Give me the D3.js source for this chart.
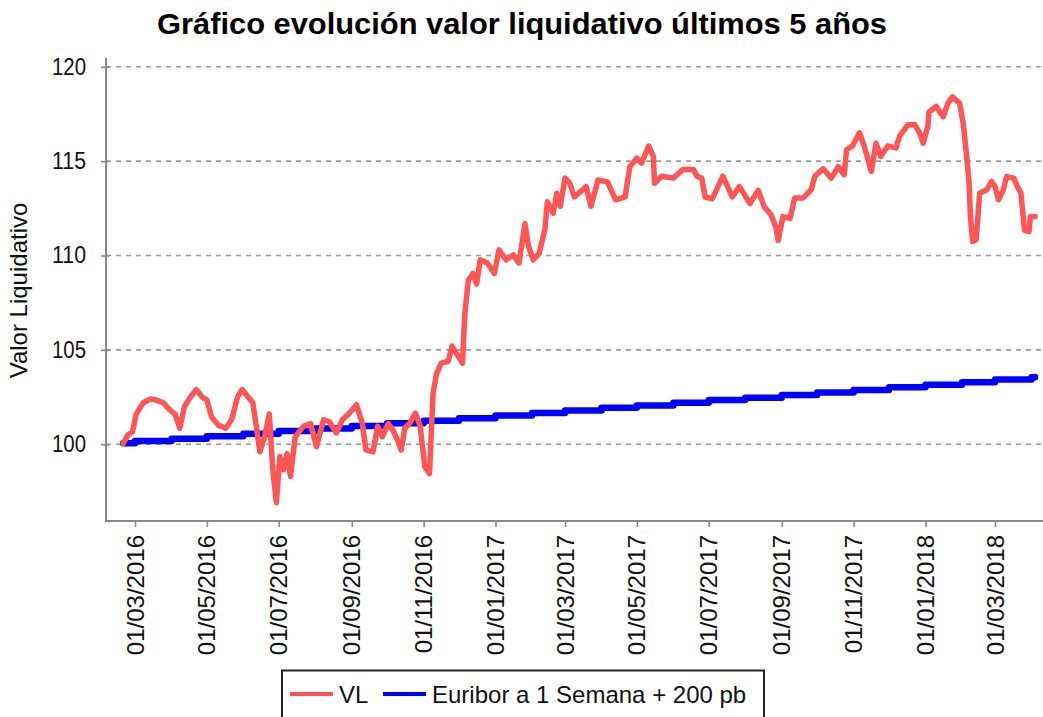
<!DOCTYPE html>
<html><head><meta charset="utf-8">
<script src="https://cdn.jsdelivr.net/npm/d3@7"></script>
<style>
body{margin:0;background:#fff;}
svg{display:block;font-family:"Liberation Sans",Arial,sans-serif;}
</style>
</head><body>
<svg id="c" width="1043" height="717"></svg>
<script>
// ---------- DATA ----------
const titleText = "Gráfico evolución valor liquidativo últimos 5 años";
const yAxisLabel = "Valor Liquidativo";
const seriesNames = ["VL", "Euribor a 1 Semana + 200 pb"];
const yTicks = [100, 105, 110, 115, 120];
const xTicks = ["2016-03-01","2016-05-01","2016-07-01","2016-09-01","2016-11-01","2017-01-01",
                "2017-03-01","2017-05-01","2017-07-01","2017-09-01","2017-11-01","2018-01-01","2018-03-01"];

const vlDates = [
"2016-02-20","2016-02-24","2016-02-28","2016-03-02","2016-03-08","2016-03-14","2016-03-19","2016-03-25","2016-03-31",
"2016-04-04","2016-04-08","2016-04-12","2016-04-17","2016-04-22","2016-04-27","2016-05-01","2016-05-05","2016-05-11",
"2016-05-17","2016-05-22","2016-05-27","2016-05-31","2016-06-05","2016-06-09","2016-06-12","2016-06-15","2016-06-19",
"2016-06-23","2016-06-26","2016-06-29","2016-07-02","2016-07-05","2016-07-08","2016-07-11","2016-07-15","2016-07-22",
"2016-07-28","2016-08-02","2016-08-08","2016-08-13","2016-08-19","2016-08-24","2016-08-30","2016-09-05","2016-09-10",
"2016-09-13","2016-09-19","2016-09-23","2016-09-27","2016-10-02","2016-10-06","2016-10-10","2016-10-13","2016-10-16",
"2016-10-20","2016-10-25","2016-10-29","2016-11-02","2016-11-06","2016-11-09","2016-11-12","2016-11-16","2016-11-22",
"2016-11-25","2016-11-29","2016-12-04","2016-12-06","2016-12-09","2016-12-13","2016-12-16","2016-12-19","2016-12-25",
"2016-12-31","2017-01-04","2017-01-10","2017-01-16","2017-01-21","2017-01-26","2017-01-29","2017-02-02","2017-02-07",
"2017-02-12","2017-02-14","2017-02-19","2017-02-22","2017-02-25","2017-03-01","2017-03-05","2017-03-09","2017-03-19",
"2017-03-23","2017-03-29","2017-04-06","2017-04-13","2017-04-21","2017-04-25","2017-05-01","2017-05-05","2017-05-11",
"2017-05-15","2017-05-16","2017-05-22","2017-06-01","2017-06-09","2017-06-18","2017-06-21","2017-06-25","2017-06-28",
"2017-07-04","2017-07-13","2017-07-21","2017-07-27","2017-08-05","2017-08-12","2017-08-17","2017-08-23","2017-08-27",
"2017-08-29","2017-09-02","2017-09-08","2017-09-12","2017-09-19","2017-09-26","2017-09-29","2017-10-06","2017-10-13",
"2017-10-19","2017-10-24","2017-10-26","2017-10-31","2017-11-06","2017-11-10","2017-11-16","2017-11-20","2017-11-24",
"2017-11-30","2017-12-07","2017-12-10","2017-12-17","2017-12-23","2017-12-27","2017-12-30","2018-01-03","2018-01-04",
"2018-01-10","2018-01-16","2018-01-20","2018-01-24","2018-01-30","2018-02-02","2018-02-05","2018-02-07","2018-02-08",
"2018-02-10","2018-02-13","2018-02-16","2018-02-22","2018-02-26","2018-03-01","2018-03-04","2018-03-08","2018-03-11",
"2018-03-17","2018-03-20","2018-03-23","2018-03-26","2018-03-30","2018-03-31","2018-04-04"];
const vlValues = [
100.05,100.5,100.67,101.6,102.2,102.4,102.35,102.2,101.8,
101.6,100.85,102.0,102.5,102.9,102.5,102.35,101.45,101.0,
100.85,101.3,102.5,102.9,102.5,102.2,100.95,99.6,100.4,
101.6,98.65,96.9,99.35,98.65,99.5,98.3,100.4,100.95,
101.1,99.87,101.3,101.2,100.6,101.3,101.65,102.1,101.1,
99.7,99.6,100.95,100.4,101.1,100.75,100.2,99.7,100.85,
101.1,101.65,101.0,98.8,98.45,102.7,103.75,104.3,104.4,
105.2,104.8,104.3,106.95,108.7,109.05,108.5,109.77,109.6,
109.05,110.3,109.77,110.03,109.6,111.7,110.5,109.77,110.1,
111.4,112.85,112.24,113.3,112.6,114.1,113.83,113.1,113.65,
112.6,114.0,113.9,112.95,113.1,114.7,115.15,114.9,115.8,
115.25,113.83,114.2,114.1,114.55,114.55,114.2,114.1,113.1,
113.0,114.2,113.1,113.65,112.75,113.45,112.6,112.14,111.5,
110.8,112.06,111.97,113.04,113.04,113.48,114.18,114.6,114.1,
114.7,114.27,115.6,115.8,116.5,115.8,114.45,115.95,115.25,
115.8,115.7,116.32,116.92,116.92,116.5,115.95,116.84,117.6,
117.9,117.35,118.06,118.4,118.06,117.0,115.25,113.83,112.24,
110.74,110.83,113.3,113.48,113.92,113.65,112.95,113.48,114.18,
114.1,113.65,113.3,111.35,111.27,112.06,112.06];

const eurDates = [
"2016-02-20","2016-03-01","2016-04-01","2016-05-01","2016-06-01","2016-07-01","2016-08-01","2016-09-01","2016-10-01",
"2016-11-01","2016-12-01","2017-01-01","2017-02-01","2017-03-01","2017-04-01","2017-05-01","2017-06-01","2017-07-01",
"2017-08-01","2017-09-01","2017-10-01","2017-11-01","2017-12-01","2018-01-01","2018-02-01","2018-03-01","2018-04-01","2018-04-04"];
const eurValues = [
100.05,100.17,100.30,100.43,100.56,100.70,100.84,100.97,101.11,
101.25,101.38,101.52,101.66,101.79,101.93,102.06,102.20,102.34,
102.47,102.61,102.75,102.88,103.02,103.16,103.29,103.43,103.55,103.57];

// ---------- LAYOUT ----------
const W = 1043, H = 717;
const plotLeft = 106, plotRight = 1043, plotTop = 58, plotBottom = 521;
const parse = d3.utcParse("%Y-%m-%d");
const fmt = d3.utcFormat("%d/%m/%Y");

const x = d3.scaleUtc().domain([parse("2016-03-01"), parse("2018-03-01")]).range([135, 995]);
const y = d3.scaleLinear().domain([100, 120]).range([444.3, 66.7]);

const svg = d3.select("#c");
svg.append("rect").attr("width", W).attr("height", H).attr("fill", "#fff");

// title
svg.append("text").text(titleText)
  .attr("x", 522).attr("y", 34).attr("text-anchor", "middle")
  .attr("font-size", 30).attr("font-weight", "bold").attr("fill", "#000")
  .attr("textLength", 730).attr("lengthAdjust", "spacingAndGlyphs");

// grid
svg.append("g").selectAll("line").data(yTicks).join("line")
  .attr("x1", plotLeft).attr("x2", plotRight)
  .attr("y1", d => y(d)).attr("y2", d => y(d))
  .attr("stroke", "#9a9a9a").attr("stroke-width", 1.6).attr("stroke-dasharray", "5,5");

// y axis
const yAxis = svg.append("g").attr("transform", `translate(${plotLeft},0)`)
  .call(d3.axisLeft(y).tickValues(yTicks).tickSize(0).tickPadding(20).tickFormat(d3.format("d")));
yAxis.select(".domain").remove();
yAxis.selectAll(".tick text").attr("font-size", 23).attr("fill", "#111")
  .attr("font-family", '"Liberation Sans",Arial,sans-serif')
  .attr("textLength", 34).attr("lengthAdjust", "spacingAndGlyphs");
yAxis.selectAll(".tick").append("line")
  .attr("x1", -5).attr("x2", 3).attr("stroke", "#888").attr("stroke-width", 1.6);
svg.append("line").attr("x1", plotLeft).attr("x2", plotLeft).attr("y1", plotTop).attr("y2", plotBottom + 1)
  .attr("stroke", "#888").attr("stroke-width", 2);

// x axis
const xAxis = svg.append("g").attr("transform", `translate(0,${plotBottom})`)
  .call(d3.axisBottom(x).tickValues(xTicks.map(parse)).tickSize(6).tickFormat(""));
xAxis.select(".domain").remove();
xAxis.selectAll(".tick line").attr("stroke", "#888").attr("stroke-width", 1.6);
svg.append("line").attr("x1", plotLeft - 1).attr("x2", plotRight).attr("y1", plotBottom).attr("y2", plotBottom)
  .attr("stroke", "#888").attr("stroke-width", 2);
svg.append("g").selectAll("text").data(xTicks.map(parse)).join("text")
  .attr("transform", d => `translate(${x(d) + 8.5},535) rotate(-90)`)
  .attr("text-anchor", "end").attr("font-size", 24).attr("fill", "#111")
  .text(d => fmt(d));

// y axis label
svg.append("text").text(yAxisLabel)
  .attr("transform", "translate(27,290.5) rotate(-90)")
  .attr("text-anchor", "middle").attr("font-size", 24).attr("fill", "#111");

// series
svg.append("clipPath").attr("id", "clip").append("rect")
  .attr("x", plotLeft).attr("y", plotTop).attr("width", plotRight - plotLeft).attr("height", plotBottom - plotTop);

const vl = vlDates.map((d, i) => ({ date: parse(d), value: vlValues[i] }));
const eur = eurDates.map((d, i) => ({ date: parse(d), value: eurValues[i] }));

svg.append("path").datum(eur).attr("clip-path", "url(#clip)")
  .attr("fill", "none").attr("stroke", "#0000ff").attr("stroke-width", 6.5)
  .attr("stroke-linejoin", "round").attr("stroke-linecap", "round")
  .attr("d", d3.line().x(d => x(d.date)).y(d => y(d.value)).curve(d3.curveStepAfter));

svg.append("path").datum(vl).attr("clip-path", "url(#clip)")
  .attr("fill", "none").attr("stroke", "#ff5555").attr("stroke-width", 5.5)
  .attr("stroke-linejoin", "round").attr("stroke-linecap", "round")
  .attr("d", d3.line().x(d => x(d.date)).y(d => y(d.value)));

// legend
const lg = svg.append("g");
lg.append("rect").attr("x", 282).attr("y", 670.5).attr("width", 482).attr("height", 60)
  .attr("fill", "#fff").attr("stroke", "#222").attr("stroke-width", 2);
const legendColors = ["#ff5555", "#0000ff"];
const legendX = [290, 383];
seriesNames.forEach((name, i) => {
  lg.append("line").attr("x1", legendX[i]).attr("x2", legendX[i] + 43).attr("y1", 694).attr("y2", 694)
    .attr("stroke", legendColors[i]).attr("stroke-width", 4);
  lg.append("text").text(name).attr("x", legendX[i] + 49).attr("y", 703)
    .attr("font-size", 24).attr("fill", "#111");
});
</script>
</body></html>
